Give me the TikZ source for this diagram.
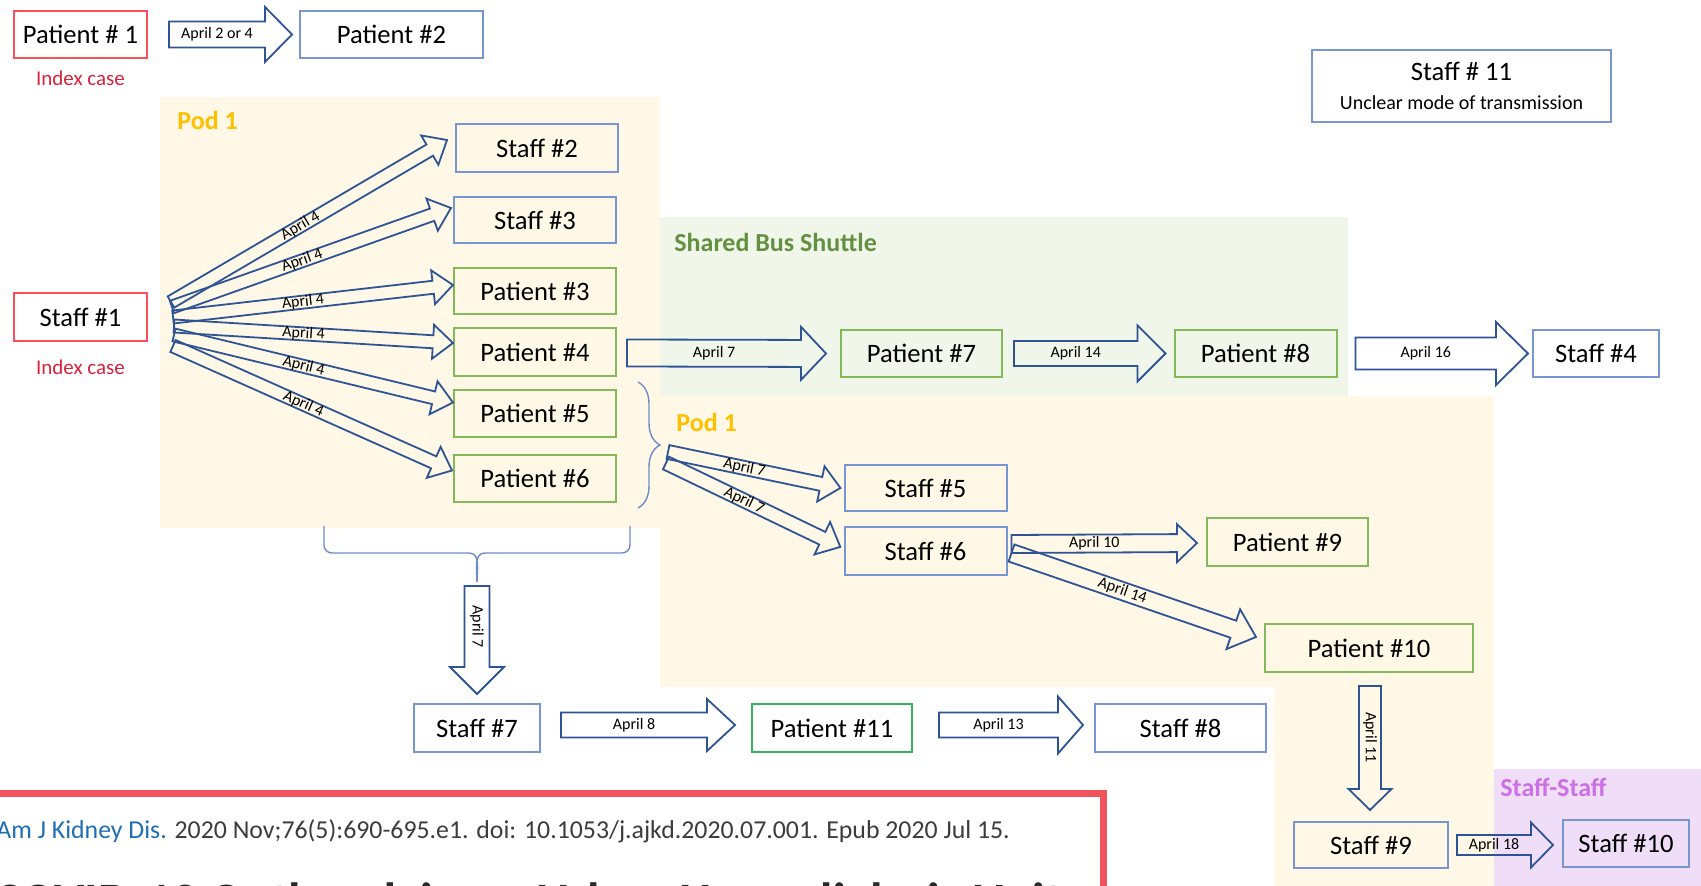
\documentclass[tikz,border=0pt]{standalone}
\usepackage{fontspec}
\setmainfont{Carlito}
\usepackage{tikz}
\usetikzlibrary{calc, positioning, decorations.pathreplacing}

\definecolor{podcream}{RGB}{255,248,230}
\definecolor{busgreen}{RGB}{240,246,234}
\definecolor{lilac}{RGB}{240,222,248}
\definecolor{podgold}{RGB}{255,192,0}
\definecolor{busolive}{RGB}{100,145,65}
\definecolor{lilactext}{RGB}{204,112,230}
\definecolor{staffblue}{RGB}{120,150,212}
\definecolor{patgreen}{RGB}{130,186,90}
\definecolor{p11green}{RGB}{50,180,100}
\definecolor{indexred}{RGB}{250,80,90}
\definecolor{indextext}{RGB}{215,35,60}
\definecolor{arrowblue}{RGB}{47,84,150}
\definecolor{bracketblue}{RGB}{110,140,205}
\definecolor{citered}{RGB}{240,84,92}
\definecolor{citeblue}{RGB}{30,110,180}
\definecolor{citegray}{RGB}{60,60,60}

\tikzset{
  box/.style={draw, line width=1pt, inner sep=1pt, font=\fontsize{13.3}{16}\selectfont},
  staff/.style={box, draw=staffblue},
  patient/.style={box, draw=patgreen},
  index/.style={box, draw=indexred},
  indexnote/.style={text=indextext, inner sep=0pt, font=\fontsize{10.5}{12}\selectfont},
  region/.style={text=#1, anchor=west, inner sep=0pt, font=\bfseries\fontsize{13}{15}\selectfont},
  arrowline/.style={draw=arrowblue, line width=0.9pt, line join=miter},
  arrowlabel/.style={inner sep=0pt, font=\fontsize{8}{9}\selectfont},
  bracket/.style={draw=bracketblue, line width=0.7pt},
}

% block arrow: from, to, body width, head width, head length (px), label
\newcommand{\blockarrow}[6]{%
  \path let \p1=(#1), \p2=(#2) in
    \pgfextra{%
      \pgfmathsetmacro\arrang{atan2(\y2-\y1,\x2-\x1)}%
      \pgfmathsetmacro\arrlen{2*veclen(\x2-\x1,\y2-\y1)}%
      \global\let\arrang\arrang
      \global\let\arrlen\arrlen};
  \begin{scope}[shift={(#1)}, rotate=\arrang]
    \draw [arrowline] (0,-#3/2) -- ({\arrlen-#5},-#3/2) -- ({\arrlen-#5},-#4/2)
      -- (\arrlen,0) -- ({\arrlen-#5},#4/2) -- ({\arrlen-#5},#3/2) -- (0,#3/2) -- cycle;
    \node [arrowlabel, rotate=\arrang] at ({(\arrlen-#5)/2},0) {#6};
  \end{scope}}

\begin{document}
\begin{tikzpicture}[x=0.5pt, y=-0.5pt]
  \useasboundingbox (0,0) rectangle (1701,886);
  \fill [white] (0,0) rectangle (1701,886);

  % shaded areas
  \fill [podcream] (160,97) rectangle (660,528);
  \fill [busgreen] (660,217) rectangle (1348,396);
  \fill [podcream] (660,396) rectangle (1494,687);
  \fill [podcream] (1274,687) rectangle (1494,886);
  \fill [lilac] (1494,769) rectangle (1701,886);

  \node [region=podgold] (podA) at (177,120) {Pod 1};
  \node [region=busolive] (bus) at (674,242) {Shared Bus Shuttle};
  \node [region=podgold] (podB) at (676,422) {Pod 1};
  \node [region=lilactext] (staffstaff) at (1500,787) {Staff-Staff};

  % cases
  \node [index, minimum width=66.5pt, minimum height=23.5pt] (pat1) at (80.5,34.5) {Patient \# 1};
  \node [indexnote, below=6pt of pat1] (idx1) {Index case};
  \node [staff, minimum width=91.5pt, minimum height=23.5pt] (pat2) at (391.5,34.5) {Patient \#2};
  \node [index, minimum width=66.5pt, minimum height=24pt] (staff1) at (80.5,317) {Staff \#1};
  \node [indexnote, below=9pt of staff1] (idx2) {Index case};
  \node [staff, minimum width=149.5pt, minimum height=36pt, align=center,
         font=\fontsize{13.3}{14.5}\selectfont] (staff11) at (1461.5,86)
        {Staff \# 11\\{\fontsize{10}{14.5}\selectfont Unclear mode of transmission}};

  \node [staff, minimum width=81pt, minimum height=24pt] (staff2) at (537,148) {Staff \#2};
  \node [staff, minimum width=81pt, minimum height=23pt] (staff3) at (535,220) {Staff \#3};
  \node [patient, minimum width=81pt, minimum height=23pt] (pat3) at (535,291) {Patient \#3};
  \node [patient, minimum width=81pt, minimum height=24pt] (pat4) at (535,352) {Patient \#4};
  \node [patient, minimum width=81pt, minimum height=23.5pt] (pat5) at (535,413.5) {Patient \#5};
  \node [patient, minimum width=81pt, minimum height=23.5pt] (pat6) at (535,478.5) {Patient \#6};

  \node [patient, minimum width=80.5pt, minimum height=23.5pt] (pat7) at (921.5,353.5) {Patient \#7};
  \node [patient, minimum width=81pt, minimum height=23.5pt] (pat8) at (1255.5,353.5) {Patient \#8};
  \node [staff, minimum width=63pt, minimum height=23.5pt] (staff4) at (1596,353.5) {Staff \#4};

  \node [staff, minimum width=81pt, minimum height=23pt] (staff5) at (925.5,488) {Staff \#5};
  \node [staff, minimum width=81pt, minimum height=24pt] (staff6) at (925.5,551) {Staff \#6};
  \node [patient, minimum width=80.5pt, minimum height=24pt] (pat9) at (1287.5,542) {Patient \#9};
  \node [patient, minimum width=104pt, minimum height=24pt] (pat10) at (1369,648) {Patient \#10};
  \node [staff, minimum width=77pt, minimum height=23pt] (staff9) at (1371,845) {Staff \#9};
  \node [staff, minimum width=63pt, minimum height=23.5pt] (staff10) at (1626,843.5) {Staff \#10};

  \node [staff, minimum width=63pt, minimum height=24pt] (staff7) at (477,728) {Staff \#7};
  \node [box, draw=p11green, minimum width=80pt, minimum height=24pt] (pat11) at (832,728) {Patient \#11};
  \node [staff, minimum width=85.5pt, minimum height=24pt] (staff8) at (1180.5,728) {Staff \#8};

  % braces
  \draw [bracket, decorate, decoration={brace, amplitude=11pt}]
    ($(pat5.north east)+(21,-7)$) -- ($(pat6.south east)+(21,5)$);
  \coordinate (bracetip) at (477,582);
  \draw [bracket] (324,526) -- (324,545) to[out=-90, in=180] (332,553) -- (469,553)
    to[out=0, in=90] (bracetip);
  \draw [bracket] (630,526) -- (630,545) to[out=-90, in=0] (622,553) -- (485,553)
    to[out=180, in=90] (bracetip);

  % transmissions
  \blockarrow{$(pat1.east)+(21,0)$}{$(pat2.west)+(-7,0)$}{26}{55}{27}{April 2 or 4}

  \coordinate (fan) at ($(staff1.east)+(23,0)$);
  \blockarrow{$(fan)+(0,-15)$}{$(staff2.west)+(-8,-8)$}{13}{34}{20}{April 4}
  \blockarrow{$(fan)+(1,-10)$}{$(staff3.west)+(-2,-12)$}{13}{34}{20}{April 4}
  \blockarrow{$(fan)+(2,0)$}{$(pat3.west)+(0,-6)$}{13}{34}{20}{April 4}
  \blockarrow{$(fan)+(3,9)$}{$(pat4.west)+(0,-9)$}{13}{34}{20}{April 4}
  \blockarrow{$(fan)+(3,18)$}{$(pat5.west)+(0,-11)$}{13}{34}{20}{April 4}
  \blockarrow{$(fan)+(2,29)$}{$(pat6.west)+(-1,-8)$}{13}{34}{20}{April 4}

  \blockarrow{$(pat4.east)+(10,1)$}{$(pat7.west)+(-14,0)$}{27}{53}{25}{April 7}
  \blockarrow{$(pat7.east)+(11,0)$}{$(pat8.west)+(-8,0)$}{25}{56}{28}{April 14}
  \blockarrow{$(pat8.east)+(18,0)$}{$(staff4.west)+(-4,0)$}{32}{63}{32}{April 16}

  \coordinate (podtip) at (666,455);
  \blockarrow{$(podtip)+(2,-3)$}{$(staff5.west)+(-3,0)$}{14}{36}{20}{April 7}
  \blockarrow{$(podtip)+(0,8)$}{$(staff6.west)+(-3,-4)$}{14}{36}{20}{April 7}
  \blockarrow{$(staff6.east)+(4,-7)$}{$(pat9.west)+(-9,1)$}{18}{38}{20}{April 10}
  \blockarrow{$(staff6.east)+(4,2)$}{$(pat10.west)+(-8,-11)$}{18}{42}{24}{April 14}
  \blockarrow{$(pat10.south)+(1,13)$}{$(staff9.north)+(-1,-11)$}{22}{43}{21}{April 11}
  \blockarrow{$(staff9.east)+(8,0)$}{$(staff10.west)+(-9,1.5)$}{20}{45}{22}{April 18}

  \blockarrow{$(bracetip)+(0,4)$}{$(staff7.north)+(0,-9)$}{25}{54}{27}{April 7}
  \blockarrow{$(staff7.east)+(20,-3)$}{$(pat11.west)+(-16,-3)$}{25}{52}{28}{April 8}
  \blockarrow{$(pat11.east)+(26,-3)$}{$(staff8.west)+(-11,-3)$}{25}{57}{25}{April 13}

  % source
  \draw [citered, line width=3.5pt] (-20,793) rectangle (1103,940);
  \node [anchor=west, inner sep=0pt, font=\fontsize{12.9}{15}\selectfont] (cite) at (-4,831)
    {\textcolor{citeblue}{Am J Kidney Dis.} \textcolor{citegray}{2020 Nov;76(5):690-695.e1. doi: 10.1053/j.ajkd.2020.07.001. Epub 2020 Jul 15.}};
  \node [anchor=base west, inner sep=0pt, font=\bfseries\fontsize{25.5}{28}\selectfont,
         text=citegray!70!black] (title) at (-6,918) {COVID-19 Outbreak in an Urban Hemodialysis Unit};
\end{tikzpicture}
\end{document}
